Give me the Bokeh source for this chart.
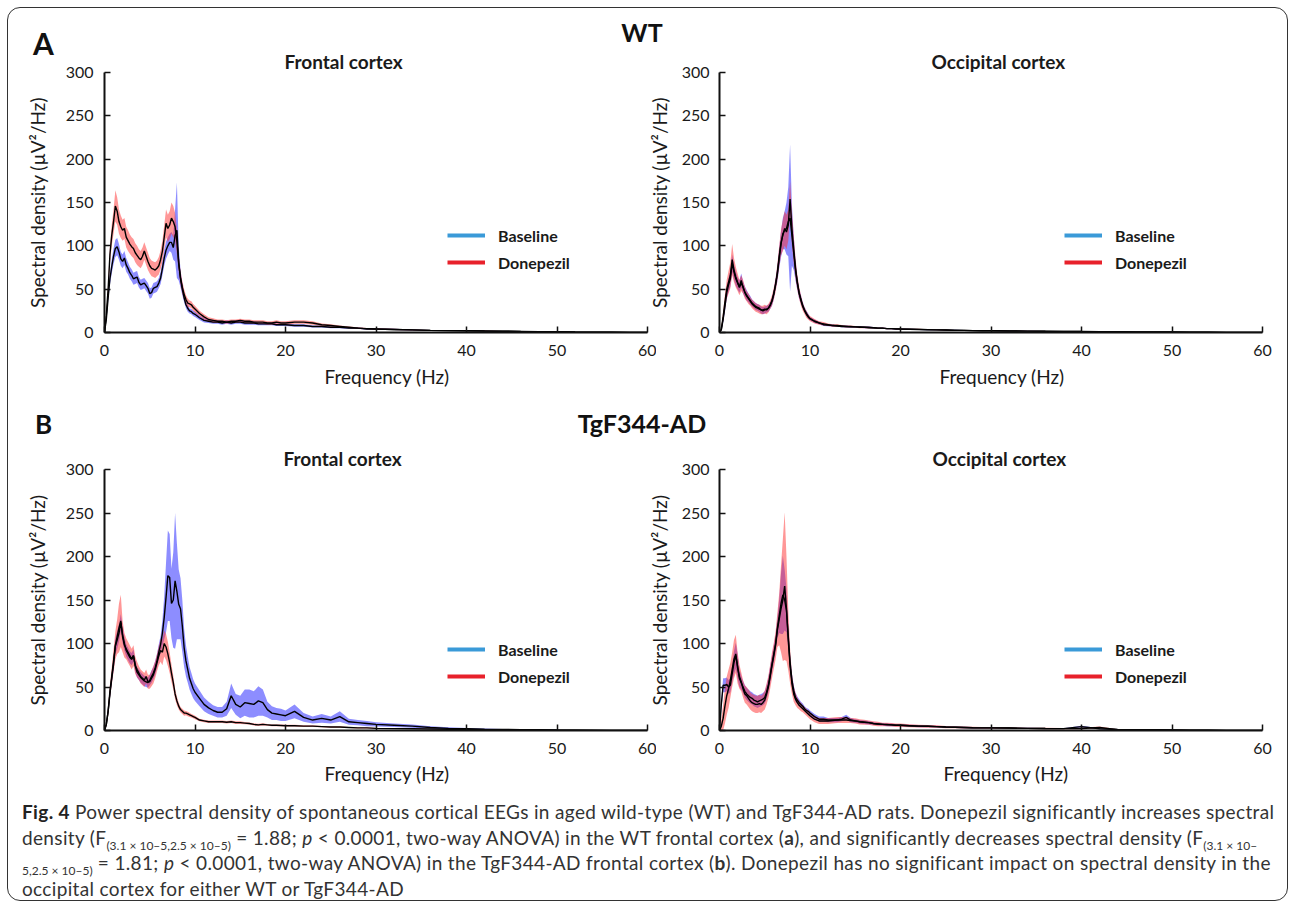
from bokeh.plotting import figure
from bokeh.layouts import column, row
from bokeh.models import Div, Range1d, Title, Legend, LegendItem, FixedTicker
from bokeh.embed import file_html
from bokeh.resources import INLINE

# ---------------- data ----------------
FREQ = ([0.0, 0.2, 0.4, 0.6, 0.8, 1.0, 1.2, 1.4, 1.6, 1.8, 2.0, 2.2, 2.4, 2.6, 2.8,
         3.0, 3.2, 3.4, 3.6, 3.8, 4.0, 4.2, 4.4, 4.6, 4.8, 5.0, 5.2, 5.4, 5.6, 5.8,
         6.0, 6.2, 6.4, 6.6, 6.8, 7.0, 7.2, 7.4, 7.6, 7.8, 8.0, 8.2, 8.4, 8.6, 8.8,
         9.0, 9.2, 9.4, 9.6, 9.8, 10.0]
        + [10.5, 11, 11.5, 12, 12.5, 13, 13.5, 14, 14.5, 15, 15.5, 16, 16.5, 17, 17.5,
           18, 18.5, 19, 19.5, 20]
        + [21, 22, 23, 24, 25, 26, 27, 28, 29, 30]
        + [32, 34, 36, 38, 40, 42, 44, 46, 48, 50, 52, 54, 56, 58, 60])

# WT frontal
AF_BASE = ([0, 15, 40, 62, 76, 88, 97, 99, 93, 85, 82, 86, 78, 74, 69, 66, 62, 63, 64, 58,
            55, 56, 57, 54, 51, 45, 46, 51, 52, 53, 57, 63, 74, 86, 95, 100, 104, 104, 98, 112,
            118, 80, 62, 50, 40, 32, 28, 25, 24, 22, 21]
           + [17, 14, 13, 12, 12, 11, 12, 11, 12, 12, 11, 11, 11, 10, 10, 10, 10, 9, 9, 9]
           + [8, 8, 7, 7, 6, 6, 5, 5, 4, 4]
           + [3.5, 3, 2.5, 2.2, 2, 1.7, 1.5, 1.2, 1, 0.8, 0.5, 0.4, 0.3, 0.2, 0.2])
AF_BASE_SEM = ([0, 2, 5, 7, 8, 9, 10, 10, 9, 8, 8, 8, 8, 7, 7, 7, 7, 7, 7, 6,
                6, 6, 6, 6, 6, 6, 6, 6, 6, 6, 6, 7, 8, 9, 10, 10, 10, 12, 14, 30,
                55, 20, 10, 7, 5, 4, 4, 3, 3, 3, 3]
               + [2.5, 2.5, 2, 2, 2, 2, 2, 2, 2, 2, 2, 2, 2, 1.5, 1.5, 1.5, 1.5, 1.5, 1.5, 1.5]
               + [1.5, 1.5, 1.2, 1.2, 1, 1, 1, 0.8, 0.8, 0.8]
               + [0.7, 0.6, 0.5, 0.5, 0.4, 0.4, 0.3, 0.3, 0.3, 0.2, 0.2, 0.2, 0.1, 0.1, 0.1])
AF_DON = ([0, 20, 50, 90, 112, 128, 146, 140, 128, 122, 118, 120, 110, 106, 102, 99, 97, 92, 89, 86,
           84, 88, 94, 88, 82, 77, 74, 73, 72, 74, 77, 84, 94, 110, 126, 120, 124, 132, 128, 122,
           105, 80, 63, 52, 44, 38, 34, 33, 32, 29, 27]
          + [22, 18, 15, 14, 13, 13, 12, 13, 13, 14, 13, 13, 12, 12, 12, 11, 11, 12, 11, 11]
          + [12, 12, 11, 9, 8, 7, 6, 5, 4.5, 4]
          + [3.5, 3, 2.5, 2.2, 2, 1.8, 1.5, 1.3, 1, 0.8, 0.5, 0.4, 0.3, 0.2, 0.2])
AF_DON_SEM = ([0, 3, 6, 10, 12, 14, 18, 16, 14, 13, 12, 12, 12, 12, 11, 11, 11, 11, 11, 10,
               10, 10, 10, 10, 10, 9, 9, 9, 9, 9, 10, 11, 12, 14, 16, 16, 16, 18, 18, 16,
               14, 10, 8, 7, 6, 5, 5, 4, 4, 4, 4]
              + [3, 3, 2.5, 2.5, 2, 2, 2, 2, 2, 2, 2, 2, 2, 2, 2, 2, 2, 2, 2, 2]
              + [2, 2, 2, 1.5, 1.5, 1.2, 1, 1, 0.8, 0.8]
              + [0.7, 0.6, 0.5, 0.5, 0.4, 0.4, 0.3, 0.3, 0.3, 0.2, 0.2, 0.2, 0.1, 0.1, 0.1])

# WT occipital
AO_BASE = ([0, 3, 15, 30, 46, 55, 62, 80, 70, 62, 57, 53, 60, 52, 47, 43, 40, 37, 34, 32,
            30, 29, 28, 26, 25, 26, 27, 28, 31, 36, 44, 56, 68, 86, 102, 114, 118, 120, 128, 132,
            112, 92, 72, 57, 45, 38, 31, 26, 22, 19, 16]
           + [13, 11, 9, 8.5, 8, 7.5, 7, 7, 6.5, 6.5, 6.5, 6, 6, 5.5, 5, 5, 4.5, 4.5, 4, 4]
           + [3.8, 3.5, 3.2, 3, 2.8, 2.6, 2.4, 2.2, 2.1, 2]
           + [1.8, 1.6, 1.5, 1.3, 1.2, 1, 0.9, 0.7, 0.6, 0.5, 0.4, 0.3, 0.2, 0.2, 0.1])
AO_BASE_SEM = ([0, 1, 4, 6, 7, 8, 9, 10, 9, 8, 7, 7, 8, 7, 6, 6, 5, 5, 4, 4,
                4, 4, 4, 4, 4, 4, 4, 4, 4, 5, 6, 7, 9, 12, 15, 18, 22, 30, 40, 85,
                35, 20, 12, 8, 6, 5, 4, 3, 3, 3, 2]
               + [2, 1.5, 1.5, 1.2, 1.2, 1, 1, 1.2, 1, 1, 1, 1, 1, 0.8, 0.8, 0.8, 0.8, 0.7, 0.7, 0.7]
               + [0.6, 0.6, 0.5, 0.5, 0.5, 0.5, 0.4, 0.4, 0.4, 0.4]
               + [0.3, 0.3, 0.3, 0.3, 0.2, 0.2, 0.2, 0.2, 0.1, 0.1, 0.1, 0.1, 0.1, 0.1, 0.1])
AO_DON = ([0, 4, 18, 35, 50, 58, 66, 84, 72, 64, 58, 52, 57, 53, 46, 42, 39, 36, 33, 31,
           29, 28, 27, 26, 26, 27, 26, 28, 32, 37, 45, 55, 70, 88, 104, 112, 120, 116, 124, 154,
           120, 96, 74, 58, 46, 37, 30, 25, 21, 18, 16]
          + [13, 11, 10, 9, 8, 8, 7.5, 7, 7, 6.5, 6, 6, 5.5, 5.5, 5, 5, 4.5, 4.5, 4.2, 4]
          + [3.8, 3.6, 3.3, 3, 2.8, 2.5, 2.4, 2.2, 2, 2]
          + [1.8, 1.6, 1.4, 1.3, 1.1, 1, 0.8, 0.7, 0.6, 0.5, 0.4, 0.3, 0.2, 0.2, 0.1])
AO_DON_SEM = ([0, 2, 6, 9, 11, 13, 15, 18, 14, 12, 10, 9, 9, 8, 7, 6, 6, 5, 5, 5,
               5, 5, 5, 5, 5, 5, 5, 5, 5, 6, 7, 8, 10, 12, 15, 18, 20, 20, 18, 20,
               20, 16, 12, 9, 7, 6, 5, 4, 4, 3, 3]
              + [2.5, 2, 2, 1.5, 1.5, 1.5, 1.2, 1.2, 1.2, 1, 1, 1, 1, 0.8, 0.8, 0.8, 0.8, 0.7, 0.7, 0.7]
              + [0.6, 0.6, 0.5, 0.5, 0.5, 0.5, 0.4, 0.4, 0.4, 0.4]
              + [0.3, 0.3, 0.3, 0.3, 0.2, 0.2, 0.2, 0.2, 0.1, 0.1, 0.1, 0.1, 0.1, 0.1, 0.1])

# TgF344-AD frontal
BF_BASE = ([0, 7, 22, 42, 60, 76, 97, 104, 112, 124, 110, 100, 92, 88, 84, 82, 86, 74, 67, 64,
            61, 59, 57, 56, 55, 58, 62, 66, 72, 80, 90, 99, 112, 130, 153, 178, 176, 146, 150, 172,
            160, 145, 140, 120, 95, 80, 70, 60, 54, 48, 44]
           + [37, 30, 26, 23, 21, 21, 25, 40, 30, 27, 32, 31, 30, 34, 32, 24, 20, 19, 18, 17]
           + [22, 15, 12, 14, 12, 16, 10, 9, 8, 7]
           + [6, 5, 3.5, 2.5, 2, 1.5, 1.2, 1, 0.8, 0.5, 0.4, 0.3, 0.2, 0.2, 0.1])
BF_BASE_SEM = ([0, 2, 4, 5, 6, 7, 9, 10, 10, 10, 9, 8, 7, 7, 7, 7, 7, 7, 6, 6,
                6, 6, 6, 6, 6, 6, 7, 7, 8, 8, 9, 10, 15, 25, 40, 52, 50, 40, 55, 78,
                55, 40, 35, 30, 22, 18, 15, 13, 12, 11, 10]
               + [9, 8, 7, 6, 6, 6, 8, 14, 12, 13, 15, 16, 15, 17, 15, 9, 8, 7, 7, 6]
               + [8, 5, 4, 5, 4, 6, 3.5, 3, 3, 2.5]
               + [2, 1.8, 1.5, 1.2, 1, 0.8, 0.6, 0.5, 0.4, 0.3, 0.2, 0.2, 0.1, 0.1, 0.1])
BF_DON = ([0, 7, 22, 45, 62, 80, 98, 108, 118, 126, 108, 98, 94, 90, 86, 82, 86, 75, 70, 66,
           62, 60, 58, 62, 56, 56, 60, 64, 70, 78, 86, 92, 90, 100, 96, 88, 78, 66, 55, 42,
           34, 28, 24, 22, 20, 20, 19, 18, 17, 16, 15]
          + [12, 11, 10, 10, 10, 10, 9.5, 10, 9, 9, 8.5, 8, 7, 6.5, 7, 6.5, 6, 6, 5.8, 5.5]
          + [5.5, 5, 5, 4.5, 4, 4, 3.5, 3, 3, 2.5]
          + [2.2, 2, 1.8, 1.5, 1.3, 1, 0.8, 0.6, 0.5, 0.4, 0.3, 0.2, 0.2, 0.1, 0.1])
BF_DON_SEM = ([0, 2, 5, 8, 10, 13, 16, 20, 28, 30, 18, 14, 12, 12, 12, 12, 12, 10, 9, 8,
               8, 8, 8, 8, 8, 8, 9, 10, 10, 10, 11, 13, 15, 15, 15, 14, 12, 10, 8, 6,
               5, 4, 3, 3, 3, 2.5, 2.5, 2.5, 2, 2, 2]
              + [1.5, 1.5, 1.5, 1.5, 1.5, 1.5, 1.5, 1.5, 1.5, 1.5, 1.2, 1.2, 1.2, 1.2, 1.2, 1, 1, 1, 1, 1]
              + [1, 1, 1, 0.8, 0.8, 0.8, 0.6, 0.6, 0.6, 0.5]
              + [0.4, 0.4, 0.3, 0.3, 0.3, 0.2, 0.2, 0.2, 0.1, 0.1, 0.1, 0.1, 0.1, 0.1, 0.1])

# TgF344-AD occipital
BO_BASE = ([0, 30, 52, 52, 53, 50, 52, 65, 78, 86, 74, 60, 55, 50, 45, 42, 40, 38, 37, 35,
            34, 33, 34, 35, 36, 38, 44, 52, 64, 76, 88, 100, 118, 132, 146, 156, 150, 138, 108, 78,
            58, 46, 38, 35, 32, 30, 28, 25, 23, 22, 20]
           + [16, 13, 13, 12, 12, 12, 13, 15, 12, 11, 10, 9.5, 9, 8, 7.5, 7, 6.5, 6.5, 6, 6]
           + [5.5, 5, 4.8, 4.5, 4, 3.8, 3.5, 3.2, 3, 3]
           + [2.8, 2.5, 2.3, 2.2, 4.5, 2, 1.2, 1, 0.8, 0.6, 0.4, 0.3, 0.2, 0.1, 0.1])
BO_BASE_SEM = ([0, 6, 8, 8, 8, 8, 8, 10, 13, 15, 14, 10, 8, 7, 7, 7, 7, 7, 7, 7,
                7, 7, 7, 7, 7, 7, 8, 9, 10, 10, 10, 10, 12, 20, 35, 45, 35, 25, 15, 10,
                8, 6, 5, 4, 4, 3, 3, 3, 3, 3, 3]
               + [3, 3, 3, 2.5, 2.5, 2.5, 2.5, 3, 2.5, 2, 2, 2, 2, 1.5, 1.5, 1.5, 1.5, 1.5, 1.2, 1.2]
               + [1.2, 1.2, 1, 1, 1, 0.8, 0.8, 0.8, 0.7, 0.7]
               + [0.6, 0.6, 0.5, 0.5, 1, 0.5, 0.4, 0.3, 0.3, 0.2, 0.2, 0.1, 0.1, 0.1, 0.1])
BO_DON = ([0, 5, 14, 28, 40, 48, 58, 70, 82, 88, 72, 62, 56, 48, 42, 40, 37, 34, 32, 31,
           30, 30, 31, 30, 32, 35, 42, 50, 62, 75, 86, 98, 116, 128, 140, 150, 166, 140, 104, 74,
           54, 42, 36, 32, 29, 27, 25, 23, 21, 19, 17]
          + [13, 11, 11, 11, 11.5, 12, 12, 12, 11.5, 11, 10, 9.5, 9, 8, 7.5, 7, 7, 6.5, 6, 6]
          + [5.5, 5, 4.8, 4.5, 4, 3.8, 3.5, 3.2, 3, 3]
          + [2.8, 2.5, 2.3, 2.2, 2.3, 3.5, 1, 0.9, 0.8, 0.6, 0.4, 0.3, 0.2, 0.1, 0.1])
BO_DON_SEM = ([0, 8, 15, 20, 22, 22, 20, 20, 22, 22, 18, 14, 11, 10, 10, 10, 10, 10, 10, 10,
               10, 10, 10, 10, 10, 11, 12, 13, 14, 15, 15, 16, 20, 30, 50, 70, 85, 60, 35, 20,
               12, 9, 7, 6, 5, 5, 4, 4, 4, 4, 4]
              + [3.5, 3.5, 3.5, 3.5, 3.5, 3.5, 3.5, 3.5, 3, 3, 3, 3, 2.5, 2.5, 2.5, 2, 2, 2, 2, 2]
              + [1.8, 1.6, 1.5, 1.4, 1.3, 1.2, 1.1, 1, 1, 1]
              + [0.9, 0.8, 0.8, 0.7, 0.8, 1, 0.5, 0.4, 0.3, 0.2, 0.2, 0.1, 0.1, 0.1, 0.1])

XTICKS = [0, 10, 20, 30, 40, 50, 60]
YTICKS = [0, 50, 100, 150, 200, 250, 300]
LEGEND_LABELS = ["Baseline", "Donepezil"]
YLABEL = "Spectral density (µV²/Hz)"
XLABEL = "Frequency (Hz)"

for arr in [AF_BASE, AF_BASE_SEM, AF_DON, AF_DON_SEM, AO_BASE, AO_BASE_SEM, AO_DON, AO_DON_SEM,
            BF_BASE, BF_BASE_SEM, BF_DON, BF_DON_SEM, BO_BASE, BO_BASE_SEM, BO_DON, BO_DON_SEM]:
    assert len(arr) == len(FREQ), len(arr)

FONT = "Lato"
TXT = "#1a1a1a"
BAND_BLUE = "#2f2fff"
BAND_RED = "#ff3030"
LEG_BLUE = "#3a9ad8"
LEG_RED = "#e8212b"
NAN = float("nan")


def panel(title, base, base_sem, don, don_sem, width, height, mb_left, mb_right, mb_top,
          mb_bottom, title_off, xlab_off, xlab_standoff, legend_loc,
          tick_standoff, label_standoff, margin=0):
    p = figure(width=width, height=height, x_range=Range1d(0, 60), y_range=Range1d(0, 300),
               output_backend="svg", toolbar_location=None, title=title, margin=margin,
               min_border_left=mb_left, min_border_right=mb_right,
               min_border_top=mb_top, min_border_bottom=mb_bottom)
    p.outline_line_color = None
    p.grid.visible = False
    p.background_fill_color = None
    p.border_fill_color = None

    p.title.align = "left"
    p.title.offset = title_off
    p.title.standoff = 0
    p.title.text_font = FONT
    p.title.text_font_size = "19px"
    p.title.text_font_style = "bold"
    p.title.text_color = TXT

    def band(m, s, color, alpha):
        lo = [max(0.0, a - b) for a, b in zip(m, s)]
        hi = [a + b for a, b in zip(m, s)]
        p.varea(x=FREQ, y1=lo, y2=hi, fill_color=color, fill_alpha=alpha)

    band(base, base_sem, BAND_BLUE, 0.55)
    band(don, don_sem, BAND_RED, 0.5)
    p.line(FREQ, base, line_color="black", line_width=1.4)
    p.line(FREQ, don, line_color="black", line_width=1.4)

    # legend proxies
    r1 = p.line([NAN], [NAN], line_color=LEG_BLUE, line_width=4)
    r2 = p.line([NAN], [NAN], line_color=LEG_RED, line_width=4)
    leg = Legend(items=[LegendItem(label=LEGEND_LABELS[0], renderers=[r1]),
                        LegendItem(label=LEGEND_LABELS[1], renderers=[r2])],
                 location=legend_loc, glyph_width=38, glyph_height=24, label_height=24,
                 spacing=3, padding=0, margin=0, label_standoff=13,
                 label_text_font=FONT, label_text_font_style="bold",
                 label_text_font_size="16px", label_text_color=TXT,
                 background_fill_alpha=0, border_line_color=None)
    p.add_layout(leg)

    p.xaxis.ticker = FixedTicker(ticks=XTICKS)
    p.yaxis.ticker = FixedTicker(ticks=YTICKS)
    for ax in (p.xaxis[0], p.yaxis[0]):
        ax.major_tick_in = 6
        ax.major_tick_out = 0
        ax.minor_tick_line_color = None
        ax.axis_line_width = 2
        ax.axis_line_color = "#111111"
        ax.major_tick_line_color = "#111111"
        ax.major_tick_line_width = 1.5
        ax.major_label_text_font = FONT
        ax.major_label_text_font_size = "16px"
        ax.major_label_text_color = TXT
    p.xaxis.major_label_standoff = 12
    p.yaxis.major_label_standoff = tick_standoff
    p.yaxis.axis_label = YLABEL
    p.yaxis.axis_label_standoff = label_standoff
    p.yaxis.axis_label_text_font = FONT
    p.yaxis.axis_label_text_font_size = "19px"
    p.yaxis.axis_label_text_font_style = "normal"
    p.yaxis.axis_label_text_color = TXT

    p.add_layout(Title(text=XLABEL, align="left", offset=xlab_off, standoff=xlab_standoff,
                       text_font=FONT, text_font_size="19px", text_font_style="normal",
                       text_color=TXT), "below")
    return p


# the occipital panels overlap the frontal panels' right border by 14 px (both transparent)
af = panel("Frontal cortex", AF_BASE, AF_BASE_SEM, AF_DON, AF_DON_SEM,
           648, 350, 96, 9, 27, 63, 180, 220, 9, (343, 58), 11, 14)
ao = panel("Occipital cortex", AO_BASE, AO_BASE_SEM, AO_DON, AO_DON_SEM,
           645, 350, 77, 25, 27, 63, 212, 220, 9, (345, 58), 10, 8, margin=(0, 0, 0, -14))
bf = panel("Frontal cortex", BF_BASE, BF_BASE_SEM, BF_DON, BF_DON_SEM,
           648, 348, 96, 9, 27, 60, 179, 220, 7, (343, 42), 11, 14)
bo = panel("Occipital cortex", BO_BASE, BO_BASE_SEM, BO_DON, BO_DON_SEM,
           645, 348, 77, 25, 27, 60, 213, 224, 7, (345, 42), 10, 8, margin=(0, 0, 0, -14))

HEAD_STYLE = "position:absolute;font-family:Lato;font-weight:bold;color:#111;white-space:nowrap;"
OVERFLOW = {"overflow": "visible"}
head_a = Div(width=1279, height=37, margin=0, styles=OVERFLOW, text=(
    '<div style="position:relative;width:1279px;height:37px;overflow:visible;">'
    f'<span style="{HEAD_STYLE}left:25px;top:20px;font-size:30px;line-height:30px;">A</span>'
    f'<span style="{HEAD_STYLE}left:634px;top:12px;font-size:25px;line-height:25px;'
    'transform:translateX(-50%);">WT</span></div>'))
head_b = Div(width=1279, height=47, margin=0, styles=OVERFLOW, text=(
    '<div style="position:relative;width:1279px;height:47px;overflow:visible;">'
    f'<span style="{HEAD_STYLE}left:27px;top:16px;font-size:26px;line-height:26px;">B</span>'
    f'<span style="{HEAD_STYLE}left:634px;top:16px;font-size:25px;line-height:25px;'
    'transform:translateX(-50%);">TgF344-AD</span></div>'))

SUB = '<sub style="font-size:12px;line-height:0;letter-spacing:0;">'
caption = Div(width=1279, height=110, margin=0, text=(
    '<div style="font-family:Lato;font-size:19px;line-height:25.5px;letter-spacing:0.35px;'
    'color:#333;padding:9px 0 0 14px;white-space:nowrap;">'
    '<b style="color:#222;">Fig. 4</b> Power spectral density of spontaneous cortical EEGs in aged '
    'wild-type (WT) and TgF344-AD rats. Donepezil significantly increases spectral<br>'
    f'density (F{SUB}(3.1 × 10–5,2.5 × 10–5)</sub> = 1.88; <i>p</i> &lt; 0.0001, two-way ANOVA) in '
    'the WT frontal cortex (<b>a</b>), and significantly decreases spectral density '
    f'(F{SUB}(3.1 × 10–</sub><br>'
    f'{SUB}5,2.5 × 10–5)</sub> = 1.81; <i>p</i> &lt; 0.0001, two-way ANOVA) in the TgF344-AD '
    'frontal cortex (<b>b</b>). Donepezil has no significant impact on spectral density in the<br>'
    'occipital cortex for either WT or TgF344-AD</div>'))

layout = column(head_a, row(af, ao), head_b, row(bf, bo), caption,
                margin=(8, 0, 0, 8),
                styles={"outline": "1.5px solid #333333", "outline-offset": "0px",
                        "border-radius": "12px"})

open("out.html", "w").write(file_html(layout, INLINE))
